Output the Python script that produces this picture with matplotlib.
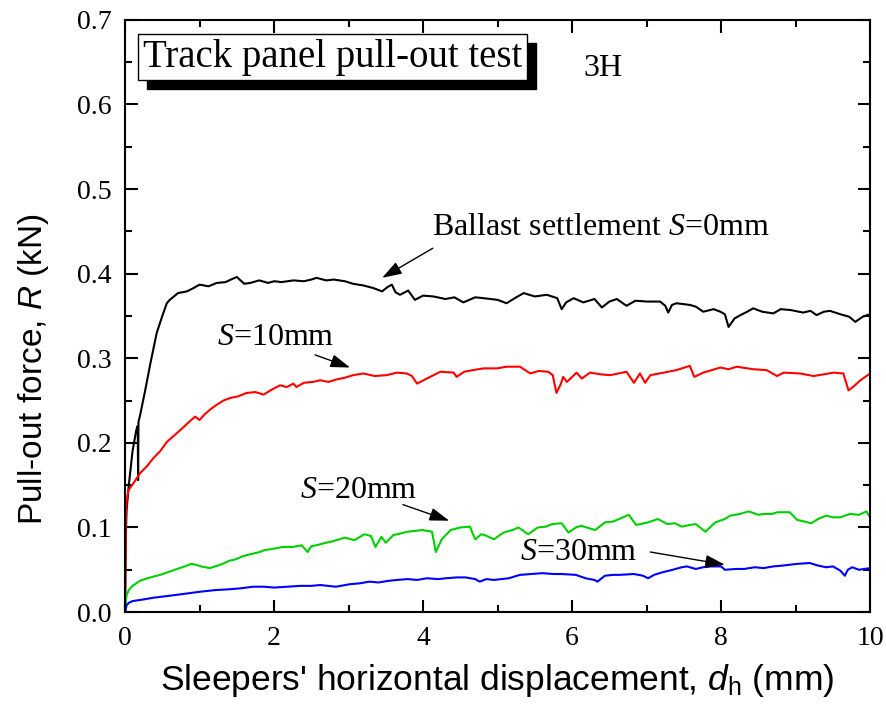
import matplotlib
matplotlib.use("Agg")
import matplotlib.pyplot as plt
from matplotlib.ticker import MultipleLocator, FormatStrFormatter
from matplotlib.patches import Rectangle

plt.rcParams['mathtext.fontset'] = 'custom'
plt.rcParams['mathtext.rm'] = 'Liberation Serif'
plt.rcParams['mathtext.it'] = 'Liberation Serif:italic'
plt.rcParams['mathtext.sf'] = 'Liberation Sans:italic'
plt.rcParams['mathtext.tt'] = 'Liberation Sans'

# (displacement mm, force kN)
s0_pts = [(0, 0), (0.01, 0.09), (0.02, 0.12), (0.05, 0.15), (0.1, 0.19), (0.15, 0.215), (0.17, 0.22),
          (0.175, 0.156), (0.18, 0.225), (0.2, 0.232), (0.27, 0.262), (0.34, 0.294), (0.425, 0.33),
          (0.5, 0.35), (0.56, 0.365), (0.6, 0.369), (0.71, 0.377), (0.83, 0.379), (0.92, 0.383),
          (1.0, 0.387), (1.12, 0.385), (1.23, 0.389), (1.35, 0.39), (1.42, 0.393), (1.5, 0.396),
          (1.6, 0.388), (1.68, 0.389), (1.8, 0.392), (1.92, 0.389), (2.0, 0.391), (2.1, 0.39),
          (2.26, 0.392), (2.4, 0.391), (2.5, 0.393), (2.57, 0.395), (2.7, 0.392), (2.8, 0.393),
          (2.95, 0.391), (3.06, 0.388), (3.2, 0.386), (3.33, 0.383), (3.45, 0.379), (3.52, 0.384),
          (3.58, 0.387), (3.63, 0.378), (3.69, 0.375), (3.8, 0.38), (3.89, 0.369), (4.0, 0.374),
          (4.14, 0.373), (4.3, 0.37), (4.42, 0.372), (4.54, 0.366), (4.7, 0.372), (4.81, 0.371),
          (5.0, 0.369), (5.12, 0.365), (5.25, 0.372), (5.35, 0.377), (5.5, 0.373), (5.66, 0.375),
          (5.8, 0.371), (5.86, 0.358), (5.92, 0.366), (6.02, 0.371), (6.15, 0.366), (6.3, 0.37),
          (6.4, 0.36), (6.5, 0.367), (6.6, 0.37), (6.73, 0.362), (6.85, 0.368), (7.0, 0.367),
          (7.18, 0.367), (7.25, 0.362), (7.29, 0.354), (7.34, 0.363), (7.4, 0.365), (7.58, 0.363),
          (7.66, 0.361), (7.76, 0.355), (7.9, 0.358), (7.99, 0.355), (8.05, 0.352), (8.1, 0.337),
          (8.18, 0.347), (8.26, 0.351), (8.35, 0.355), (8.43, 0.359), (8.55, 0.355), (8.7, 0.353),
          (8.8, 0.358), (8.93, 0.357), (9.1, 0.354), (9.2, 0.356), (9.28, 0.351), (9.38, 0.355),
          (9.46, 0.356), (9.6, 0.352), (9.72, 0.349), (9.8, 0.343), (9.9, 0.349), (9.96, 0.351),
          (10.0, 0.352)]

s10_pts = [(0, 0), (0.005, 0.06), (0.01, 0.11), (0.02, 0.13), (0.045, 0.144), (0.11, 0.152),
           (0.2, 0.164), (0.3, 0.173), (0.38, 0.182), (0.47, 0.19), (0.56, 0.201), (0.65, 0.208),
           (0.74, 0.215), (0.85, 0.224), (0.94, 0.231), (1.0, 0.227), (1.06, 0.233), (1.15, 0.24),
           (1.23, 0.245), (1.32, 0.25), (1.41, 0.253), (1.52, 0.255), (1.63, 0.259), (1.75, 0.26),
           (1.86, 0.257), (1.97, 0.263), (2.08, 0.268), (2.17, 0.266), (2.26, 0.27), (2.3, 0.266),
           (2.4, 0.271), (2.52, 0.272), (2.62, 0.274), (2.73, 0.272), (2.84, 0.275), (2.95, 0.277),
           (3.06, 0.28), (3.2, 0.282), (3.35, 0.279), (3.51, 0.28), (3.65, 0.283), (3.78, 0.282),
           (3.85, 0.279), (3.92, 0.27), (4.05, 0.276), (4.23, 0.284), (4.41, 0.283), (4.45, 0.278),
           (4.55, 0.284), (4.67, 0.286), (4.81, 0.288), (4.99, 0.288), (5.12, 0.29), (5.3, 0.29),
           (5.44, 0.282), (5.55, 0.285), (5.68, 0.284), (5.74, 0.28), (5.79, 0.259), (5.85, 0.27),
           (5.88, 0.278), (5.93, 0.272), (6.06, 0.283), (6.13, 0.276), (6.24, 0.283), (6.38, 0.281),
           (6.51, 0.28), (6.62, 0.282), (6.73, 0.284), (6.83, 0.271), (6.91, 0.282), (6.98, 0.271),
           (7.05, 0.28), (7.23, 0.283), (7.4, 0.286), (7.58, 0.291), (7.64, 0.278), (7.76, 0.283),
           (7.99, 0.289), (8.1, 0.287), (8.21, 0.29), (8.43, 0.287), (8.61, 0.286), (8.75, 0.279),
           (8.84, 0.283), (9.06, 0.282), (9.24, 0.279), (9.38, 0.281), (9.51, 0.283), (9.64, 0.282),
           (9.71, 0.262), (9.77, 0.266), (9.87, 0.274), (10.0, 0.282)]

s20_pts = [(0, 0.0), (0.01, 0.012), (0.02, 0.02), (0.05, 0.026), (0.1, 0.031), (0.2, 0.037),
           (0.3, 0.04), (0.47, 0.044), (0.57, 0.047), (0.7, 0.051), (0.8, 0.054), (0.89, 0.057),
           (0.95, 0.056), (1.02, 0.054), (1.14, 0.052), (1.28, 0.056), (1.41, 0.061), (1.47, 0.062),
           (1.58, 0.066), (1.66, 0.068), (1.81, 0.071), (1.86, 0.073), (2.0, 0.075), (2.12, 0.077),
           (2.25, 0.077), (2.37, 0.079), (2.45, 0.071), (2.5, 0.078), (2.57, 0.079), (2.7, 0.082),
           (2.8, 0.084), (2.95, 0.088), (3.08, 0.085), (3.21, 0.092), (3.3, 0.09), (3.36, 0.077),
           (3.44, 0.089), (3.5, 0.082), (3.6, 0.091), (3.7, 0.093), (3.79, 0.095), (3.9, 0.096),
           (3.99, 0.097), (4.12, 0.095), (4.17, 0.071), (4.25, 0.086), (4.37, 0.097), (4.5, 0.1),
           (4.63, 0.101), (4.66, 0.094), (4.7, 0.086), (4.78, 0.092), (4.83, 0.091), (4.95, 0.086),
           (5.08, 0.094), (5.2, 0.097), (5.28, 0.1), (5.41, 0.092), (5.54, 0.1), (5.65, 0.101),
           (5.73, 0.104), (5.86, 0.105), (5.95, 0.094), (6.05, 0.1), (6.12, 0.102), (6.31, 0.097),
           (6.44, 0.106), (6.55, 0.107), (6.63, 0.11), (6.76, 0.115), (6.86, 0.103), (7.02, 0.106),
           (7.15, 0.11), (7.28, 0.104), (7.38, 0.105), (7.47, 0.101), (7.58, 0.103), (7.66, 0.104),
           (7.79, 0.095), (7.92, 0.106), (8.05, 0.11), (8.12, 0.114), (8.25, 0.116), (8.37, 0.119),
           (8.5, 0.115), (8.57, 0.116), (8.68, 0.116), (8.76, 0.118), (8.92, 0.118), (9.02, 0.109),
           (9.12, 0.107), (9.21, 0.105), (9.3, 0.11), (9.41, 0.114), (9.5, 0.112), (9.6, 0.112),
           (9.73, 0.116), (9.85, 0.115), (9.95, 0.119), (10.0, 0.112)]

s30_pts = [(0, 0), (0.02, 0.008), (0.05, 0.011), (0.1, 0.013), (0.25, 0.015), (0.38, 0.017),
           (0.57, 0.019), (0.83, 0.022), (1.0, 0.024), (1.21, 0.026), (1.4, 0.027), (1.54, 0.028),
           (1.72, 0.03), (1.86, 0.03), (2.0, 0.029), (2.18, 0.03), (2.35, 0.031), (2.5, 0.031),
           (2.62, 0.032), (2.83, 0.03), (3.02, 0.033), (3.15, 0.034), (3.28, 0.036), (3.4, 0.035),
           (3.54, 0.037), (3.65, 0.038), (3.79, 0.039), (3.92, 0.038), (4.05, 0.04), (4.2, 0.039),
           (4.31, 0.04), (4.45, 0.041), (4.57, 0.041), (4.7, 0.039), (4.76, 0.036), (4.85, 0.039),
           (4.95, 0.038), (5.15, 0.04), (5.3, 0.044), (5.45, 0.045), (5.6, 0.046), (5.75, 0.045),
           (5.86, 0.045), (6.05, 0.044), (6.18, 0.04), (6.3, 0.038), (6.34, 0.036), (6.44, 0.043),
           (6.55, 0.044), (6.63, 0.044), (6.83, 0.045), (6.95, 0.043), (7.02, 0.04), (7.1, 0.044),
           (7.21, 0.047), (7.35, 0.05), (7.47, 0.053), (7.54, 0.054), (7.66, 0.051), (7.76, 0.053),
           (7.86, 0.054), (8.0, 0.054), (8.05, 0.05), (8.2, 0.051), (8.31, 0.051), (8.45, 0.053),
           (8.57, 0.052), (8.7, 0.054), (8.83, 0.055), (9.02, 0.057), (9.19, 0.058), (9.3, 0.055),
           (9.41, 0.053), (9.5, 0.054), (9.6, 0.049), (9.66, 0.043), (9.7, 0.05), (9.76, 0.053),
           (9.85, 0.05), (9.92, 0.051), (10.0, 0.052)]

series = [(s0_pts, 'black'), (s10_pts, '#ff0000'), (s20_pts, '#00d000'), (s30_pts, '#0000ff')]

# label text, text position, arrow tail, arrow head
labels = [
    (r"Ballast settlement $S$=0mm", (4.12, 0.454), (4.13, 0.430), (3.45, 0.395)),
    (r"$S$=10mm", (1.235, 0.324), (2.55, 0.304), (3.02, 0.289)),
    (r"$S$=20mm", (2.35, 0.144), (3.73, 0.127), (4.35, 0.108)),
    (r"$S$=30mm", (5.30, 0.071), (7.05, 0.071), (8.05, 0.056)),
]

fig = plt.figure(figsize=(8.87, 7.06), dpi=100)
ax = fig.add_axes([0.141, 0.133, 0.840, 0.839])

for pts, c in series:
    xs = [p[0] for p in pts]
    ys = [p[1] for p in pts]
    ax.plot(xs, ys, color=c, lw=1.5)

for txt, tpos, tail, head in labels:
    ax.text(tpos[0], tpos[1], txt, fontsize=23, family='Liberation Serif', ha='left', va='center')
    ax.annotate('', xy=head, xytext=tail,
                arrowprops=dict(arrowstyle='-|>,head_length=0.6,head_width=0.2',
                                color='black', lw=1, mutation_scale=20, shrinkA=0, shrinkB=0))

# title box, the drop shadow is a plain rectangle behind it
title = ax.text(0.24, 0.656, "Track panel pull-out test", fontsize=28, family='Liberation Serif',
                va='center', ha='left', zorder=5,
                bbox=dict(boxstyle='square,pad=0.12', fc='white', ec='black', lw=1))
ax.text(6.15, 0.643, "3H", fontsize=23, family='Liberation Serif', va='center', ha='left')

ax.set_xlim(0, 10)
ax.set_ylim(0, 0.7)
ax.xaxis.set_major_locator(MultipleLocator(2))
ax.xaxis.set_minor_locator(MultipleLocator(1))
ax.yaxis.set_major_locator(MultipleLocator(0.1))
ax.yaxis.set_minor_locator(MultipleLocator(0.05))
ax.yaxis.set_major_formatter(FormatStrFormatter('%.1f'))
ax.tick_params(which='both', direction='in', top=True, right=True, width=1.5)
ax.tick_params(which='major', length=9, pad=10)
ax.tick_params(which='minor', length=5)
for lab in ax.get_xticklabels() + ax.get_yticklabels():
    lab.set_family('Liberation Serif')
    lab.set_fontsize(20)
for sp in ax.spines.values():
    sp.set_linewidth(1.5)

ax.set_xlabel(r"Sleepers' horizontal displacement, $\mathsf{d}_\mathtt{h}$ (mm)",
              fontsize=25.5, family='Liberation Sans', labelpad=8)
ax.set_ylabel(r"Pull-out force, $\mathsf{R}$ (kN)", fontsize=24, family='Liberation Sans')
ax.yaxis.set_label_coords(-0.1, 0.41)

fig.canvas.draw()
bb = title.get_bbox_patch().get_window_extent()
shadow = Rectangle((bb.x0 + 9, bb.y0 - 9), bb.width, bb.height, transform=None,
                   fc='black', ec='black', zorder=4)
ax.add_artist(shadow)

fig.savefig('out.png', dpi=100)
